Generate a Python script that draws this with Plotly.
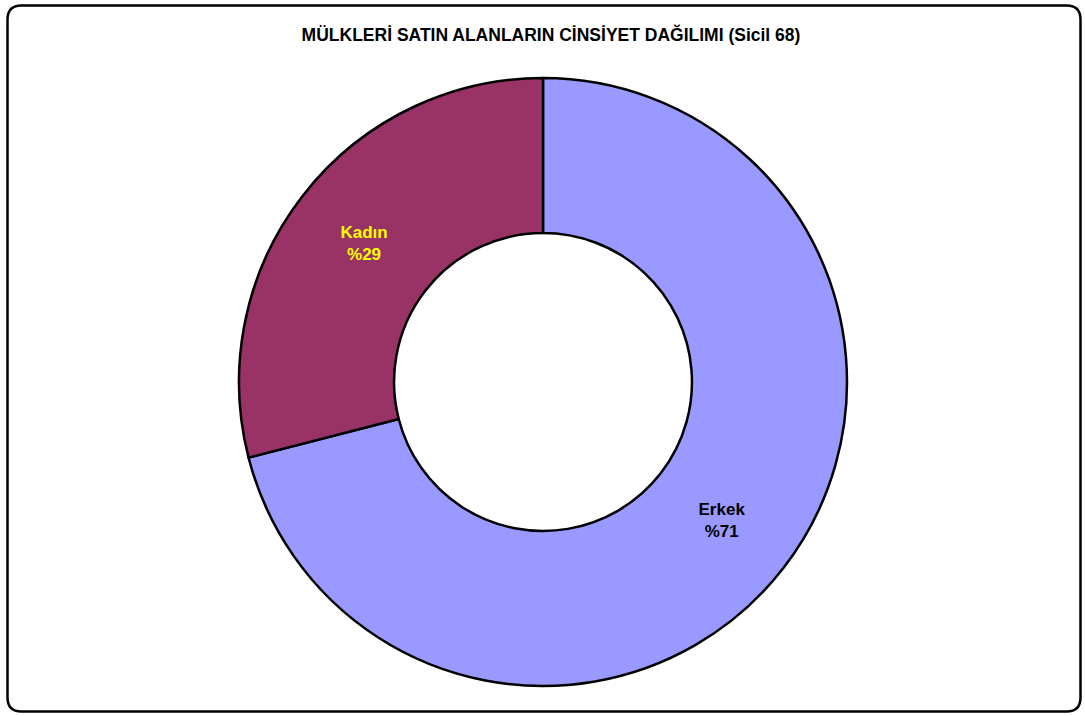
import plotly.graph_objects as go

labels = ["Erkek", "Kadın"]
values = [71, 29]
colors = ["#9999FF", "#993366"]
text_colors = ["#000000", "#FFFF00"]
title = "MÜLKLERİ SATIN ALANLARIN CİNSİYET DAĞILIMI (Sicil 68)"

texts = [f"<b>{l}<br>%{v}</b>" for l, v in zip(labels, values)]

W, H = 1085, 716
cx, cy, r = 543, 382, 304
FONT = "Arial, Liberation Sans, sans-serif"

fig = go.Figure(go.Pie(
    labels=labels,
    values=values,
    text=texts,
    textinfo="text",
    textposition="inside",
    insidetextorientation="horizontal",
    textfont=dict(family=FONT, size=17, color=text_colors),
    marker=dict(colors=colors, line=dict(color="#000000", width=2.5)),
    hole=0.49,
    sort=False,
    direction="clockwise",
    rotation=0,
    showlegend=False,
    domain=dict(x=[(cx - r) / W, (cx + r) / W], y=[1 - (cy + r) / H, 1 - (cy - r) / H]),
    hoverinfo="label+percent",
))

fig.update_layout(
    width=W, height=H,
    margin=dict(l=0, r=0, t=0, b=0),
    paper_bgcolor="white",
    plot_bgcolor="white",
    font=dict(family=FONT, color="black"),
    title=dict(text=f"<b>{title}</b>", x=551 / W, xanchor="center",
               y=1 - 35 / H, yanchor="middle",
               font=dict(size=17.5, color="black", family=FONT)),
)

# rounded border around chart area
x0, y0, x1, y1, rr = 7.5, 5.5, 1080.5, 711.5, 14
def px(x): return x / W
def py(y): return 1 - y / H
path = (f"M {px(x0+rr)},{py(y0)} L {px(x1-rr)},{py(y0)} Q {px(x1)},{py(y0)} {px(x1)},{py(y0+rr)} "
        f"L {px(x1)},{py(y1-rr)} Q {px(x1)},{py(y1)} {px(x1-rr)},{py(y1)} "
        f"L {px(x0+rr)},{py(y1)} Q {px(x0)},{py(y1)} {px(x0)},{py(y1-rr)} "
        f"L {px(x0)},{py(y0+rr)} Q {px(x0)},{py(y0)} {px(x0+rr)},{py(y0)} Z")
fig.add_shape(type="path", path=path, xref="paper", yref="paper",
              line=dict(color="black", width=2.5), fillcolor="rgba(0,0,0,0)", layer="below")

fig.write_html("out.html", config={"displayModeBar": False},
               post_script="document.body.style.margin='0';document.body.style.overflow='hidden';")
